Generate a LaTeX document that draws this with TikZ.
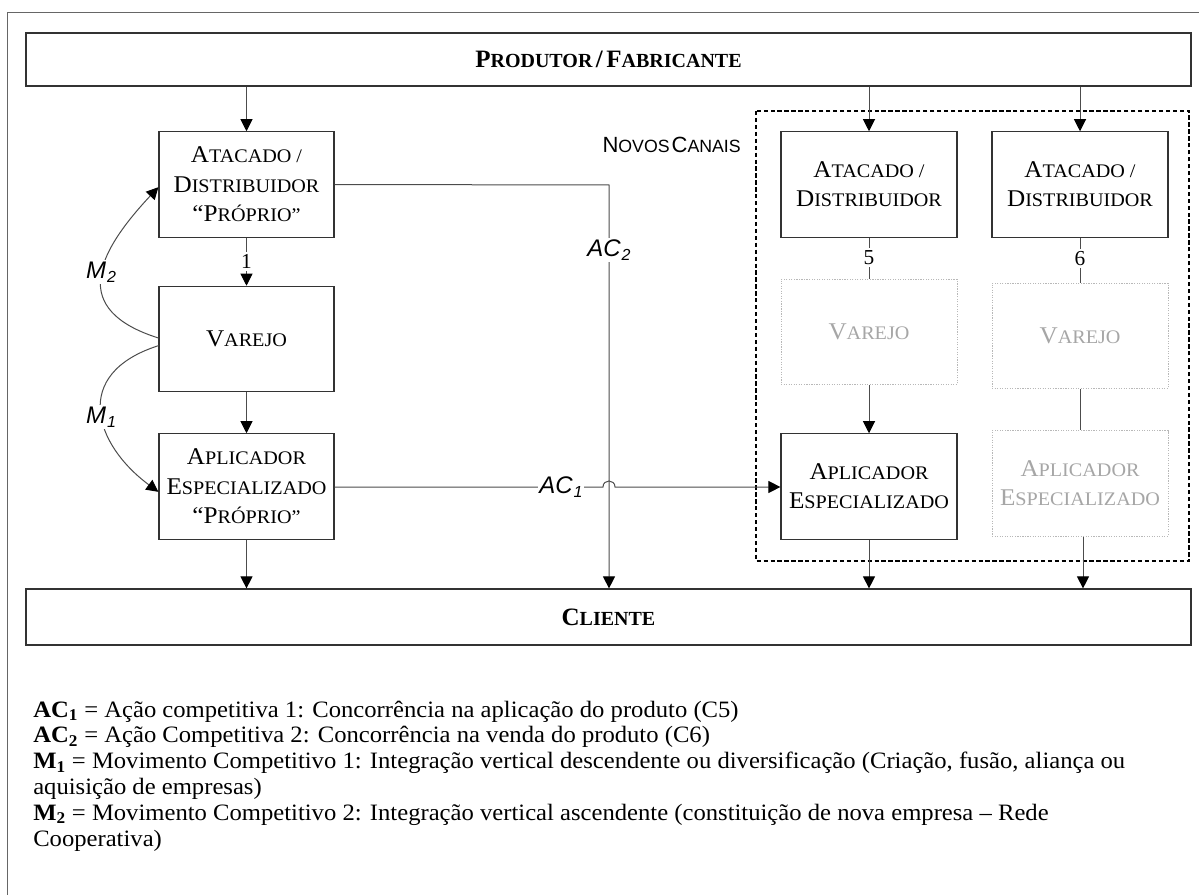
\documentclass[tikz,border=0pt]{standalone}
\usepackage{fontspec}
\setmainfont[FakeStretch=1.05]{Liberation Serif}
\newfontfamily\plainf{Liberation Serif}
\newfontfamily\arialf{Liberation Sans}
\usetikzlibrary{arrows.meta}
\newcommand{\scx}[2]{{\fontsize{18}{22}\selectfont #1}{\fontsize{14.4}{22}\selectfont #2}}
\newcommand{\scb}[2]{{\plainf\bfseries\fontsize{18.75}{22}\selectfont #1}{\plainf\bfseries\fontsize{15}{22}\selectfont #2}}
\newcommand{\subl}[1]{\kern0.04em\raisebox{-0.35ex}{\fontsize{12}{12}\selectfont #1}}
\begin{document}
\begin{tikzpicture}[x=0.75pt,y=-0.75pt,
  box/.style={draw=black!80, line width=0.9pt, fill=white, minimum width=131.25pt,
    minimum height=79pt, align=center, inner sep=0pt, font=\fontsize{18}{22}\selectfont},
  gbox/.style={box, draw=black!28, densely dotted, line width=0.7pt, text=black!35},
  bar/.style={draw=black!80, line width=0.9pt, fill=white, minimum width=873.75pt, inner sep=0pt},
  conn/.style={draw=black!70, line width=0.75pt},
  arr/.style={conn, -{Triangle[length=9pt,width=9pt,black]}},
  tag/.style={fill=white, inner sep=1.2pt, font=\arialf\itshape\fontsize{18}{18}\selectfont},
  num/.style={fill=white, inner sep=2pt, font=\plainf\fontsize{16}{16}\selectfont},
  leg/.style={anchor=base west, inner sep=0pt, font=\fontsize{17.6}{19}\selectfont}
]
\useasboundingbox (0,0) rectangle (1199,895);
% outer frame
\draw[black!60, line width=0.75pt] (7.5,12.7) rectangle (1240,940);
% new channels dashed frame
\draw[black, line width=2pt, dash pattern=on 3.2pt off 2pt] (756,111) rectangle (1189,561);

% bars
\node[bar, minimum height=39.75pt] (prod) at (608.5,59.5) {\scb{P}{RODUTOR} \scb{/}{} \scb{F}{ABRICANTE}};
\node[bar, minimum height=42pt] (cli) at (608.5,617) {\scb{C}{LIENTE}};

% left column
\node[box] (atL) at (246.5,184.5) {\scx{A}{TACADO /}\\\scx{D}{ISTRIBUIDOR}\\\scx{“P}{RÓPRIO”}};
\node[box] (vaL) at (246.5,339) {\scx{V}{AREJO}};
\node[box] (apL) at (246.5,486.5) {\scx{A}{PLICADOR}\\\scx{E}{SPECIALIZADO}\\\scx{“P}{RÓPRIO”}};

% right column 1
\node[box, minimum width=132pt] (atR1) at (869,184.5) {\scx{A}{TACADO /}\\\scx{D}{ISTRIBUIDOR}};
\node[gbox, minimum width=132pt] (vaR1) at (869,332) {\scx{V}{AREJO}};
\node[box, minimum width=132pt] (apR1) at (869,486.5) {\scx{A}{PLICADOR}\\\scx{E}{SPECIALIZADO}};

% right column 2
\node[box, minimum width=132pt] (atR2) at (1080,184.5) {\scx{A}{TACADO /}\\\scx{D}{ISTRIBUIDOR}};
\node[gbox, minimum width=132pt] (vaR2) at (1080,336) {\scx{V}{AREJO}};
\node[gbox, minimum width=132pt] (apR2) at (1080,483.5) {\scx{A}{PLICADOR}\\\scx{E}{SPECIALIZADO}};

% label new channels
\node[anchor=base east, inner sep=0pt, font=\arialf] (nc) at (741,153)
  {{\fontsize{16.5}{16}\selectfont N}{\fontsize{13.3}{16}\selectfont OVOS}\kern1.5pt{\fontsize{16.5}{16}\selectfont C}{\fontsize{13.3}{16}\selectfont ANAIS}};

% producer to wholesalers
\draw[arr] (prod.south -| atL.north) -- (atL.north);
\draw[arr] (prod.south -| atR1.north) -- (atR1.north);
\draw[arr] (prod.south -| atR2.north) -- (atR2.north);

% left chain
\draw[arr] (atL.south) -- (vaL.north) node[num, pos=0.5] (n1) {1};
\draw[arr] (vaL.south) -- (apL.north);
\draw[arr] (apL.south) -- (apL.south |- cli.north);

% right chains
\draw[conn] (atR1.south) -- (vaR1.north) node[num, pos=0.48] (n5) {5};
\draw[arr] (vaR1.south) -- (apR1.north);
\draw[arr] (apR1.south) -- (apR1.south |- cli.north);
\draw[conn] (atR2.south) -- (vaR2.north) node[num, pos=0.46] (n6) {6};
\draw[conn] (vaR2.south) -- (apR2.north);
\draw[arr] ([xshift=2.25pt]apR2.south) -- ([xshift=2.25pt]apR2.south |- cli.north);

% AC2
\coordinate (ac2x) at (609,185);
\draw[arr] (atL.east) -- (ac2x) -- (ac2x |- cli.north);
\node[tag] (ac2) at (609,250) {AC\subl{2}};

% AC1 with hop over AC2
\coordinate (hopL) at (603,487);
\coordinate (hopR) at (615,487);
\draw[arr] (apL.east |- hopL) -- (hopL) .. controls (603,479) and (615,479) .. (hopR) -- (apR1.west |- hopR);
\node[tag] (ac1) at (561,487) {AC\subl{1}};

% M curves
\draw[arr] ([yshift=0.75pt]vaL.west) .. controls (70,310) and (95,255) .. ([yshift=-2pt]atL.west);
\node[tag] (m2) at (101,272) {M\subl{2}};
\draw[arr] ([yshift=-5pt]vaL.west) .. controls (70,374) and (95,445) .. ([yshift=-4pt]apL.west);
\node[tag] (m1) at (101,417) {M\subl{1}};

% legend
\node[leg] (l1) at (33,717) {\textbf{AC\textsubscript{1}} = Ação competitiva 1: Concorrência na aplicação do produto (C5)};
\node[leg] (l2) at (33,742.8) {\textbf{AC\textsubscript{2}} = Ação Competitiva 2: Concorrência na venda do produto (C6)};
\node[leg] (l3) at (33,768.6) {\textbf{M\textsubscript{1}} = Movimento Competitivo 1: Integração vertical descendente ou diversificação (Criação, fusão, aliança ou};
\node[leg] (l4) at (33,794.4) {aquisição de empresas)};
\node[leg] (l5) at (33,820.2) {\textbf{M\textsubscript{2}} = Movimento Competitivo 2: Integração vertical ascendente (constituição de nova empresa – Rede};
\node[leg] (l6) at (33,846) {Cooperativa)};
\end{tikzpicture}
\end{document}
